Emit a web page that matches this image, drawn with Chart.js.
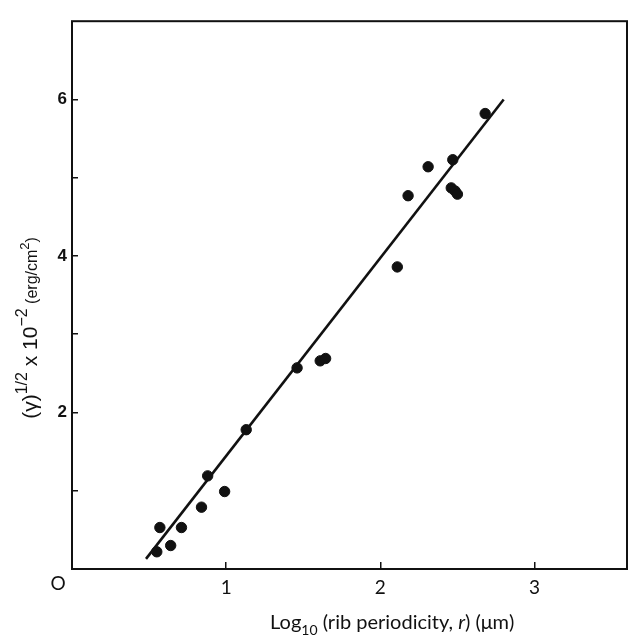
<!DOCTYPE html>
<html>
<head>
<meta charset="utf-8">
<script src="https://cdn.jsdelivr.net/npm/chart.js@4"></script>
<style>
  html, body { margin: 0; padding: 0; background: #fff; }
  #wrap { width: 635px; height: 638px; }
</style>
</head>
<body>
<div id="wrap"><canvas id="chart" width="635" height="638"></canvas></div>
<script>
// measured points, log10 rib periodicity vs (gamma)^1/2 x 10^-2
const logR = [0.57, 0.71, 0.84, 0.64, 0.55, 0.88, 0.99, 1.13, 1.46, 1.61, 1.645,
              2.11, 2.18, 2.31, 2.47, 2.46, 2.485, 2.50, 2.68];
const gammaRoot = [0.53, 0.53, 0.79, 0.30, 0.22, 1.19, 0.99, 1.78, 2.57, 2.66, 2.69,
                   3.86, 4.77, 5.14, 5.23, 4.87, 4.83, 4.79, 5.82];
// fitted line end points
const fitX = [0.48, 2.80];
const fitY = [0.13, 6.0];

const xTicks = [1, 2, 3];
const yTicks = [1, 2, 3, 4, 5, 6];
const yLabelled = [2, 4, 6];
const originLabel = 'O';

// axis titles as [text, font size, baseline shift, italic]
const xTitleParts = [
  ['Log', 20, 0, false],
  ['10', 14, 6, false],
  [' (rib periodicity, ', 20, 0, false],
  ['r', 20, 0, true],
  [') (\u03bcm)', 20, 0, false]
];
const yTitleParts = [
  ['(\u03b3)', 21, 0, false],
  ['1/2', 16, -10, false],
  [' x 10', 21, 0, false],
  ['\u22122', 16, -10, false],
  [' (erg/cm', 16, 0, false],
  ['2', 13, -8, false],
  [')', 16, 0, false]
];

const points = logR.map((x, i) => ({ x: x, y: gammaRoot[i] }));
const fitLine = fitX.map((x, i) => ({ x: x, y: fitY[i] }));

function partFont(p, family) {
  return (p[3] ? 'italic ' : '') + p[1] + 'px ' + family;
}

function drawParts(ctx, parts, family, cx, baseY) {
  let total = 0;
  parts.forEach(p => { ctx.font = partFont(p, family); total += ctx.measureText(p[0]).width; });
  let x = cx - total / 2;
  ctx.textAlign = 'left';
  ctx.textBaseline = 'alphabetic';
  parts.forEach(p => {
    ctx.font = partFont(p, family);
    ctx.fillText(p[0], x, baseY + p[2]);
    x += ctx.measureText(p[0]).width;
  });
}

// box around plot area, axis titles and the shared "O" at the origin
const framePlugin = {
  id: 'frame',
  beforeDatasetsDraw(chart) {
    const a = chart.chartArea;
    const ctx = chart.ctx;
    ctx.save();
    ctx.strokeStyle = '#111';
    ctx.lineWidth = 2;
    ctx.strokeRect(a.left, a.top, a.right - a.left, a.bottom - a.top);
    ctx.restore();
  },
  afterDraw(chart) {
    const ctx = chart.ctx;
    const a = chart.chartArea;
    const xs = chart.scales.x, ys = chart.scales.y;
    ctx.save();
    ctx.fillStyle = '#111';
    ctx.font = '19px Lato';
    ctx.textAlign = 'center';
    ctx.textBaseline = 'middle';
    ctx.fillText(originLabel, xs.getPixelForValue(0) - 14, ys.getPixelForValue(0) + 15);

    drawParts(ctx, xTitleParts, 'Lato', a.left + (a.right - a.left) * 0.577, 629);

    ctx.translate(37, a.top + (a.bottom - a.top) * 0.56);
    ctx.rotate(-Math.PI / 2);
    drawParts(ctx, yTitleParts, '"Liberation Sans"', 0, 0);
    ctx.restore();
  }
};

new Chart(document.getElementById('chart'), {
  type: 'scatter',
  data: {
    datasets: [{
      label: 'measured',
      data: points,
      backgroundColor: '#111',
      borderColor: '#111',
      pointRadius: 5.2,
      pointHoverRadius: 5.2
    }, {
      type: 'line',
      label: 'fit',
      data: fitLine,
      borderColor: '#111',
      borderWidth: 2.6,
      pointRadius: 0,
      fill: false
    }]
  },
  plugins: [framePlugin],
  options: {
    responsive: false,
    animation: false,
    events: [],
    layout: { padding: { top: 8, right: 8, left: 0, bottom: 0 } },
    plugins: {
      legend: { display: false },
      tooltip: { enabled: false }
    },
    scales: {
      x: {
        type: 'linear',
        min: 0,
        max: 3.6,
        afterBuildTicks: s => { s.ticks = xTicks.map(v => ({ value: v })); },
        afterFit: s => { s.height = 69; },
        border: { display: false },
        grid: { drawOnChartArea: false, drawTicks: true, tickLength: -7, color: '#111', lineWidth: 1.5 },
        ticks: {
          color: '#111',
          padding: 14,
          font: { family: 'Lato', size: 19 },
          maxRotation: 0
        },
        title: { display: false }
      },
      y: {
        type: 'linear',
        min: 0,
        max: 7,
        afterBuildTicks: s => { s.ticks = yTicks.map(v => ({ value: v })); },
        afterFit: s => { s.width = 72; },
        border: { display: false },
        grid: { drawOnChartArea: false, drawTicks: true, tickLength: -6, color: '#111', lineWidth: 1.5 },
        ticks: {
          color: '#111',
          padding: 11,
          font: { family: 'Liberation Sans', size: 17, weight: 'bold' },
          callback: v => (yLabelled.includes(v) ? String(v) : '')
        },
        title: { display: false }
      }
    }
  }
});
</script>
</body>
</html>
